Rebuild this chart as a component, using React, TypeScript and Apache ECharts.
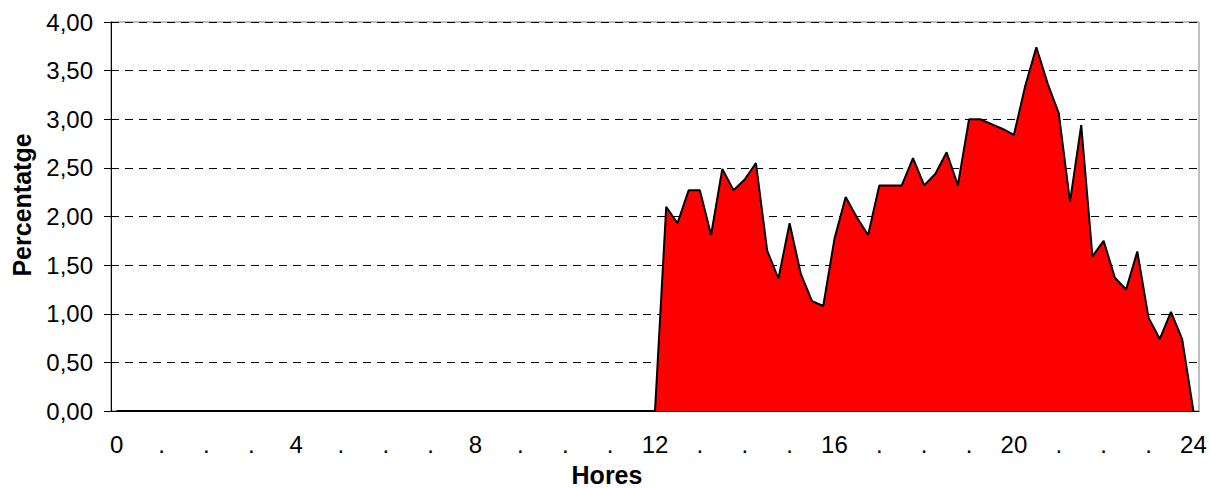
import React, { useEffect, useRef } from "react";
import * as echarts from "echarts";

// Hour tick labels (one every hour, a number every four hours)
const hourLabels = [
  "0", ".", ".", ".", "4", ".", ".", ".", "8", ".", ".", ".", "12",
  ".", ".", ".", "16", ".", ".", ".", "20", ".", ".", ".", "24",
];

// Percentage per quarter hour, 0:00 .. 24:00 (97 values)
const morning = [
  0, 0, 0, 0, 0, 0, 0, 0, 0, 0, 0, 0, // 0-3h
  0, 0, 0, 0, 0, 0, 0, 0, 0, 0, 0, 0, // 3-6h
  0, 0, 0, 0, 0, 0, 0, 0, 0, 0, 0, 0, // 6-9h
  0, 0, 0, 0, 0, 0, 0, 0, 0, 0, 0, 0, // 9-12h
];
const afternoon = [
  0, 2.1, 1.93, 2.27, 2.27, 1.81, 2.49, 2.27, 2.38, 2.55, 1.65, 1.36,
  1.93, 1.41, 1.13, 1.08, 1.77, 2.2, 1.99, 1.81, 2.32, 2.32, 2.32, 2.6,
  2.32, 2.44, 2.66, 2.32, 3.0, 3.0, 2.95, 2.9, 2.84, 3.34, 3.74, 3.37,
  3.06, 2.15, 2.94, 1.59, 1.75, 1.37, 1.25, 1.64, 0.96, 0.74, 1.02, 0.74,
  0,
];

const yTicks = { min: 0, max: 4, interval: 0.5 };

const FONT = '"Liberation Sans", Arial, sans-serif';

export default function App() {
  const ref = useRef<HTMLDivElement>(null);

  useEffect(() => {
    document.body.style.margin = "0";
    if (!ref.current) return;
    const chart = echarts.init(ref.current, null, { renderer: "svg" });
    const values = [...morning, ...afternoon];
    const categories: string[] = [];
    for (let h = 0; h < hourLabels.length; h++) {
      const qs = h === hourLabels.length - 1 ? [0] : [0, 15, 30, 45];
      for (const m of qs) categories.push(`${h}:${m === 0 ? "00" : m}`);
    }
    chart.setOption({
      animation: false,
      grid: {
        left: 111,
        top: 22,
        right: 11,
        bottom: 77,
        show: true,
        borderColor: "#808080",
        borderWidth: 1,
        backgroundColor: "transparent",
      },
      xAxis: {
        type: "category",
        data: categories,
        boundaryGap: true,
        axisLine: { lineStyle: { color: "#000", width: 1 } },
        axisTick: {
          interval: 3,
          length: 7,
          lineStyle: { color: "#000" },
        },
        axisLabel: {
          interval: 3,
          margin: 21,
          color: "#000",
          fontSize: 24,
          fontFamily: FONT,
          formatter: (_v: string, idx: number) => hourLabels[Math.floor(idx / 4)],
        },
        splitLine: { show: false },
      },
      yAxis: {
        type: "value",
        min: yTicks.min,
        max: yTicks.max,
        interval: yTicks.interval,
        axisLine: { show: true, lineStyle: { color: "#000", width: 1 } },
        axisTick: { show: true, length: 7, lineStyle: { color: "#000" } },
        axisLabel: {
          color: "#000",
          fontSize: 24,
          fontFamily: FONT,
          margin: 18,
          formatter: (v: number) => v.toFixed(2).replace(".", ","),
        },
        splitLine: {
          show: true,
          lineStyle: { color: "#000", type: [8, 6], width: 1 },
        },
      },
      graphic: [
        {
          type: "text",
          x: 22,
          y: 205,
          rotation: Math.PI / 2,
          style: {
            text: "Percentatge",
            font: `bold 25px ${FONT}`,
            fill: "#000",
            textAlign: "center",
            textVerticalAlign: "middle",
          },
        },
        {
          type: "text",
          x: 607,
          y: 475,
          style: {
            text: "Hores",
            font: `bold 25px ${FONT}`,
            fill: "#000",
            textAlign: "center",
            textVerticalAlign: "middle",
          },
        },
      ],
      series: [
        {
          type: "line",
          data: values,
          symbol: "none",
          lineStyle: { color: "#000", width: 2 },
          areaStyle: { color: "#FF0000", opacity: 1 },
          z: 3,
        },
      ],
    });
    return () => chart.dispose();
  }, []);

  return <div ref={ref} style={{ width: 1210, height: 488 }} />;
}
